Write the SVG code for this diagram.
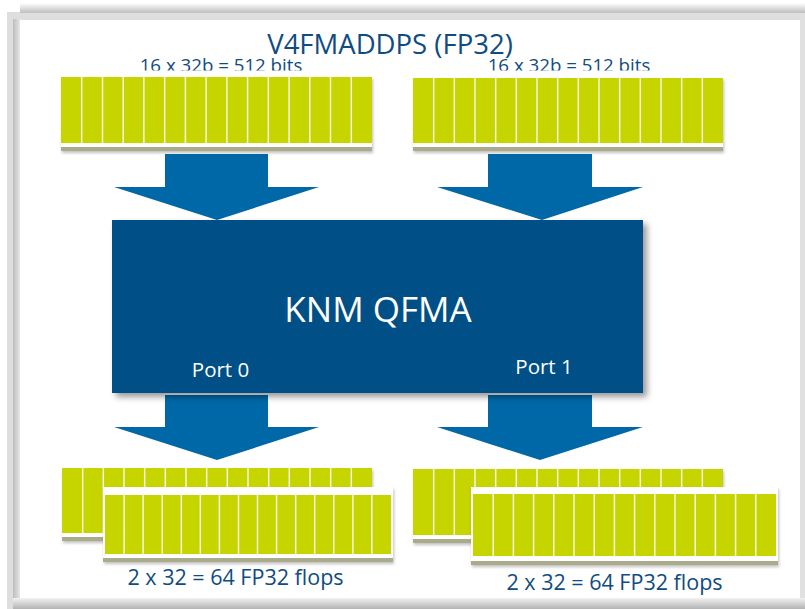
<svg xmlns="http://www.w3.org/2000/svg" width="805" height="609" viewBox="0 0 805 609">
<style>
.txt{font-family:"Open Sans","Noto Sans","Liberation Sans",sans-serif;fill:#0f4c81}
.wt{font-family:"Open Sans","Noto Sans","Liberation Sans",sans-serif;fill:#ffffff}
.cell{fill:#c6d500}
.div{stroke:#f4f7d8;stroke-width:1.5}
.strip{fill:#ffffff}
.shade{fill:#abab8c}
.arrow{fill:#0068a6}
.box{fill:#004f86}
</style>
<defs>
<linearGradient id="topShade" x1="0" y1="0" x2="0" y2="1">
<stop offset="0" stop-color="#ffffff"/><stop offset="1" stop-color="#bdbdbd"/>
</linearGradient>
<linearGradient id="leftShade" x1="0" y1="0" x2="1" y2="0">
<stop offset="0" stop-color="#bdbdbd"/><stop offset="1" stop-color="#ececec"/>
</linearGradient>
<linearGradient id="botShade" x1="0" y1="0" x2="0" y2="1">
<stop offset="0" stop-color="#f2f2f2"/><stop offset="1" stop-color="#b3b3b3"/>
</linearGradient>
<filter id="boxShadow" x="-5%" y="-5%" width="112%" height="115%">
<feDropShadow dx="4" dy="4" stdDeviation="3" flood-color="#000000" flood-opacity="0.4"/>
</filter>
<filter id="regShadow" x="-5%" y="-10%" width="110%" height="130%">
<feDropShadow dx="1" dy="2" stdDeviation="1.5" flood-color="#000000" flood-opacity="0.25"/>
</filter>
<clipPath id="cutTop"><rect x="0" y="0" width="805" height="70.5"/></clipPath>
</defs>

<g id="frame">
<rect x="0" y="0" width="805" height="609" fill="#ffffff"/>
<rect x="7" y="12" width="798" height="597" fill="#dedede"/>
<rect x="20" y="3" width="785" height="10" fill="url(#topShade)"/>
<rect x="13" y="19" width="8" height="585" fill="url(#leftShade)"/>
<rect x="20" y="20" width="780" height="578" fill="#ffffff"/>
<rect x="13" y="598" width="792" height="11" fill="url(#botShade)"/>
<rect x="800" y="13" width="5" height="585" fill="#e0e0e0"/>
</g>

<g id="title">
<text class="txt" x="390" y="54" font-size="27.5" text-anchor="middle">V4FMADDPS (FP32)</text>
</g>

<g id="label-top-left" clip-path="url(#cutTop)">
<text class="txt" x="221" y="71.5" font-size="18.7" text-anchor="middle">16 x 32b = 512 bits</text>
</g>
<g id="label-top-right" clip-path="url(#cutTop)">
<text class="txt" x="569" y="71.5" font-size="18.7" text-anchor="middle">16 x 32b = 512 bits</text>
</g>

<g id="reg-top-left" filter="url(#regShadow)">
<rect class="strip" x="61" y="77" width="311" height="70"/>
<rect class="shade" x="61" y="147" width="311" height="4"/>
<rect class="cell" x="61" y="77" width="311" height="66"/>
<path class="div" d="M81.7 77V143M102.5 77V143M123.2 77V143M143.9 77V143M164.7 77V143M185.4 77V143M206.1 77V143M226.9 77V143M247.6 77V143M268.3 77V143M289.1 77V143M309.8 77V143M330.5 77V143M351.3 77V143"/>
</g>

<g id="reg-top-right" filter="url(#regShadow)">
<rect class="strip" x="413" y="78" width="310" height="69"/>
<rect class="shade" x="413" y="147" width="310" height="4"/>
<rect class="cell" x="413" y="78" width="310" height="65"/>
<path class="div" d="M433.7 78V143M454.3 78V143M475 78V143M495.7 78V143M516.3 78V143M537 78V143M557.7 78V143M578.3 78V143M599 78V143M619.7 78V143M640.3 78V143M661 78V143M681.7 78V143M702.3 78V143"/>
</g>

<g id="connectors">
<polygon class="arrow" points="165,154 268,154 268,187 319,187 217,220 114,187 165,187"/>
<polygon class="arrow" points="488,154 592,154 592,187 643,187 542,220 437,187 488,187"/>
<polygon class="arrow" points="165,395 268,395 268,427 319,427 217,460 114,427 165,427"/>
<polygon class="arrow" points="488,395 592,395 592,427 643,427 540,460 437,427 488,427"/>
</g>

<g id="knm-qfma">
<rect class="box" x="112" y="220" width="531" height="173" filter="url(#boxShadow)"/>
<text class="wt" x="378" y="322" font-size="35" text-anchor="middle">KNM QFMA</text>
<text class="wt" x="220.5" y="377" font-size="20.5" text-anchor="middle">Port 0</text>
<text class="wt" x="544" y="374" font-size="20.5" text-anchor="middle">Port 1</text>
</g>

<g id="reg-bottom-left-back" filter="url(#regShadow)">
<rect class="strip" x="62" y="468" width="310" height="69"/>
<rect class="shade" x="62" y="537" width="310" height="4"/>
<rect class="cell" x="62" y="468" width="310" height="65"/>
<path class="div" d="M82.7 468V533M103.3 468V533M124 468V533M144.7 468V533M165.3 468V533M186 468V533M206.7 468V533M227.3 468V533M248 468V533M268.7 468V533M289.3 468V533M310 468V533M330.7 468V533M351.3 468V533"/>
</g>
<g id="reg-bottom-left-front" filter="url(#regShadow)">
<rect class="strip" x="103" y="487" width="290" height="71"/>
<rect class="shade" x="103" y="558" width="290" height="4"/>
<rect class="cell" x="105" y="495" width="286" height="59"/>
<path class="div" d="M124.1 495V554M143.1 495V554M162.2 495V554M181.3 495V554M200.3 495V554M219.4 495V554M238.5 495V554M257.5 495V554M276.6 495V554M295.7 495V554M314.7 495V554M333.8 495V554M352.9 495V554M371.9 495V554"/>
</g>

<g id="reg-bottom-right-back" filter="url(#regShadow)">
<rect class="strip" x="413" y="469" width="310" height="70"/>
<rect class="shade" x="413" y="539" width="310" height="4"/>
<rect class="cell" x="413" y="469" width="310" height="66"/>
<path class="div" d="M433.7 469V535M454.3 469V535M475 469V535M495.7 469V535M516.3 469V535M537 469V535M557.7 469V535M578.3 469V535M599 469V535M619.7 469V535M640.3 469V535M661 469V535M681.7 469V535M702.3 469V535"/>
</g>
<g id="reg-bottom-right-front" filter="url(#regShadow)">
<rect class="strip" x="471" y="487" width="307" height="74"/>
<rect class="shade" x="471" y="561" width="307" height="4"/>
<rect class="cell" x="473" y="494" width="303" height="62"/>
<path class="div" d="M493.2 494V556M513.4 494V556M533.6 494V556M553.8 494V556M574 494V556M594.2 494V556M614.4 494V556M634.6 494V556M654.8 494V556M675 494V556M695.2 494V556M715.4 494V556M735.6 494V556M755.8 494V556"/>
</g>

<g id="label-bottom-left">
<text class="txt" x="235.5" y="585" font-size="21.5" text-anchor="middle">2 x 32 = 64 FP32 flops</text>
</g>
<g id="label-bottom-right">
<text class="txt" x="614.5" y="590" font-size="21.5" text-anchor="middle">2 x 32 = 64 FP32 flops</text>
</g>
</svg>
